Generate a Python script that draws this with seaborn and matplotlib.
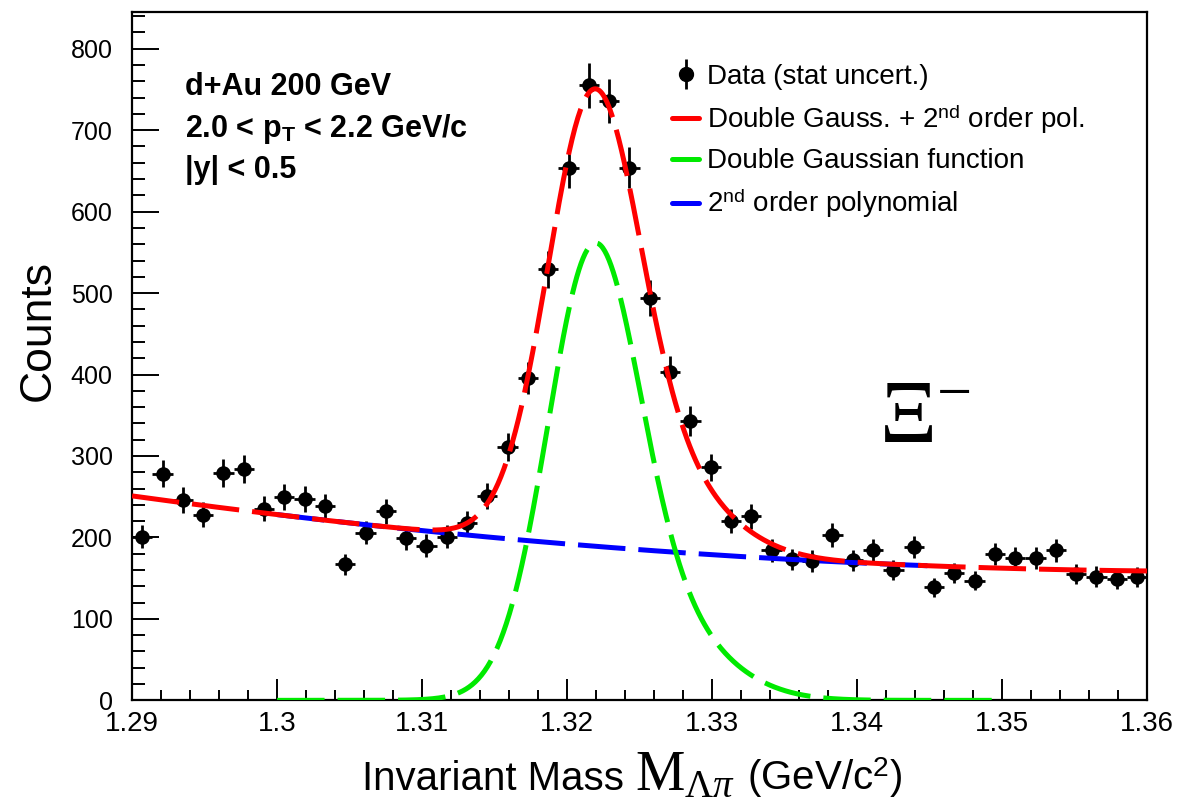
import numpy as np
import pandas as pd
import matplotlib
matplotlib.use('Agg')
import matplotlib.pyplot as plt
import seaborn as sns
from matplotlib.lines import Line2D
from matplotlib.ticker import MultipleLocator, FormatStrFormatter
from matplotlib.offsetbox import TextArea, HPacker, AnchoredOffsetbox

# istogramma M(Lambda pi): 50 bin tra 1.29 e 1.36 GeV/c^2
m_lo, m_hi, n_bins = 1.29, 1.36, 50
counts = [201, 278, 246, 228, 279, 284, 235, 250, 247, 238,
          167, 206, 232, 199, 190, 201, 218, 251, 311, 396,
          529, 654, 755, 736, 654, 494, 403, 343, 286, 220,
          226, 184, 173, 171, 203, 172, 184, 160, 188, 139,
          156, 147, 180, 175, 175, 184, 155, 152, 149, 151]

# parametri del fit
pol2_x0 = 1.29
pol2_par = [251.0, -2456.0, 16280.0]
gaus_amp = [470.0, 115.0]
gaus_mean = [1.3217, 1.3250]
gaus_sigma = [0.0031, 0.0047]

# range delle funzioni
range_total = [1.29, 1.36]
range_signal = [1.30, 1.35]
range_bkg = [1.30, 1.345]

edges = np.linspace(m_lo, m_hi, n_bins + 1)
df = pd.DataFrame({'mass': 0.5 * (edges[:-1] + edges[1:]), 'counts': counts})
df['err'] = np.sqrt(df['counts'])  # errore statistico


def pol2(x):
    u = x - pol2_x0
    return pol2_par[0] + pol2_par[1] * u + pol2_par[2] * u ** 2


def double_gaus(x):
    return sum(a * np.exp(-0.5 * ((x - m) / s) ** 2)
               for a, m, s in zip(gaus_amp, gaus_mean, gaus_sigma))


def total(x):
    return double_gaus(x) + pol2(x)


def curve(fn, rng):
    x = np.linspace(rng[0], rng[1], 700)
    return pd.DataFrame({'x': x, 'y': fn(x)})


sns.set_theme(style='ticks', rc={'axes.edgecolor': 'black', 'text.color': 'black',
                                 'xtick.color': 'black', 'ytick.color': 'black',
                                 'axes.labelcolor': 'black'})
plt.rcParams['font.family'] = ['Liberation Sans', 'DejaVu Sans']
plt.rcParams['mathtext.fontset'] = 'custom'
plt.rcParams['mathtext.rm'] = 'Liberation Serif'
plt.rcParams['mathtext.it'] = 'Liberation Serif:italic'
plt.rcParams['mathtext.bf'] = 'Liberation Sans:bold'
plt.rcParams['mathtext.sf'] = 'Liberation Sans'

c_red, c_green, c_blue = '#ff0000', '#00ea00', '#0000ff'

fig, ax = plt.subplots(figsize=(11.79, 8.05), dpi=100)
fig.subplots_adjust(left=0.112, right=0.973, bottom=0.130, top=0.985)

# dati con errori
ax.errorbar(df['mass'], df['counts'], yerr=df['err'], xerr=(m_hi - m_lo) / n_bins / 2,
            fmt='none', ecolor='black', elinewidth=2, capsize=0, zorder=2)
sns.scatterplot(data=df, x='mass', y='counts', color='black', s=110, linewidth=0,
                zorder=3, ax=ax, legend=False)

dash = (0, (9.5, 2.6))
sns.lineplot(data=curve(pol2, range_bkg), x='x', y='y', color=c_blue, lw=3.6,
             linestyle=dash, estimator=None, sort=False, ax=ax, zorder=4)
sns.lineplot(data=curve(double_gaus, range_signal), x='x', y='y', color=c_green, lw=3.6,
             linestyle=dash, estimator=None, sort=False, ax=ax, zorder=4)
sns.lineplot(data=curve(total, range_total), x='x', y='y', color=c_red, lw=3.6,
             linestyle=dash, estimator=None, sort=False, ax=ax, zorder=5)

ax.set_xlim(m_lo, m_hi)
ax.set_ylim(0, 845)

ax.xaxis.set_major_locator(MultipleLocator(0.01))
ax.xaxis.set_minor_locator(MultipleLocator(0.002))
ax.xaxis.set_major_formatter(FormatStrFormatter('%g'))
ax.yaxis.set_major_locator(MultipleLocator(100))
ax.yaxis.set_minor_locator(MultipleLocator(20))

ax.tick_params(axis='x', which='major', direction='in', length=15, width=1.4,
               labelsize=20, pad=8, top=False)
ax.tick_params(axis='x', which='minor', direction='in', length=7.5, width=1.4, top=False)
ax.tick_params(axis='y', which='major', direction='in', length=19.5, width=1.4,
               labelsize=18, pad=14, right=False)
ax.tick_params(axis='y', which='minor', direction='in', length=9.5, width=1.4, right=False)
for sp in ax.spines.values():
    sp.set_visible(True)
    sp.set_linewidth(1.6)
    sp.set_color('black')

ax.set_ylabel('Counts', fontsize=32)
ax.yaxis.set_label_coords(-0.072, 0.538)
ax.set_xlabel('')

# titolo asse x: M in serif piu' grande
xlab = HPacker(children=[
    TextArea('Invariant Mass ', textprops=dict(fontsize=29)),
    TextArea(r'$\mathrm{M}_{\Lambda\pi}$', textprops=dict(fontsize=40)),
    TextArea(r' (GeV/c$^{\mathsf{2}}$)', textprops=dict(fontsize=29)),
], align='baseline', pad=0, sep=0)
ax.add_artist(AnchoredOffsetbox(loc='upper center', child=xlab, pad=0, borderpad=0,
                                frameon=False, bbox_to_anchor=(0.4926, -0.072),
                                bbox_transform=ax.transAxes))

# testo
ax.text(0.052, 0.879, 'd+Au 200 GeV', transform=ax.transAxes, fontsize=22,
        fontweight='bold', va='baseline')
ax.text(0.052, 0.818, r'2.0 < p$_{\mathbf{T}}$ < 2.2 GeV/c', transform=ax.transAxes,
        fontsize=22, fontweight='bold', va='baseline')
ax.text(0.052, 0.759, '|y| < 0.5', transform=ax.transAxes, fontsize=22,
        fontweight='bold', va='baseline')
ax.text(1.3415, 319, r'$\Xi^{-}$', fontsize=64, va='baseline', ha='left')

# legenda
h_data = (Line2D([], [], color='black', marker='o', markersize=10, linestyle='none'),
          Line2D([], [], color='black', marker='|', markersize=21, markeredgewidth=2,
                 linestyle='none'))
h_tot = Line2D([], [], color=c_red, lw=3.6)
h_sig = Line2D([], [], color=c_green, lw=3.6)
h_bkg = Line2D([], [], color=c_blue, lw=3.6)
ax.legend([h_data, h_tot, h_sig, h_bkg],
          ['Data (stat uncert.)', r'Double Gauss. + 2$^{\mathsf{nd}}$ order pol.',
           'Double Gaussian function', r'2$^{\mathsf{nd}}$ order polynomial'],
          loc='upper left', bbox_to_anchor=(0.532, 0.925), frameon=False, fontsize=20,
          handlelength=0.97, handletextpad=0.3, labelspacing=0.46, borderaxespad=0,
          borderpad=0)

plt.savefig('out.png', dpi=100)
